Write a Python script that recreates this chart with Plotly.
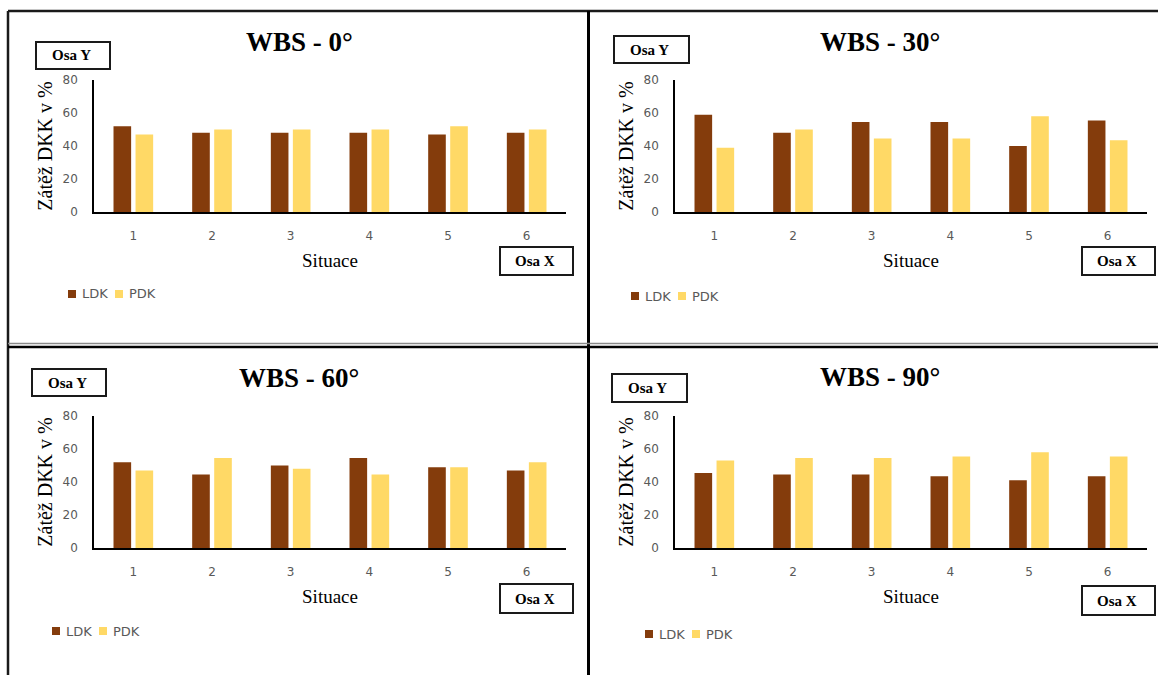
import plotly.graph_objects as go

# --- data -------------------------------------------------------------
situace = ["1", "2", "3", "4", "5", "6"]
panel_titles = ["WBS - 0°", "WBS - 30°", "WBS - 60°", "WBS - 90°"]
series_names = ["LDK", "PDK"]

ldk_0 = [52, 48, 48, 48, 47, 48]
pdk_0 = [47, 50, 50, 50, 52, 50]
ldk_30 = [59, 48, 54.5, 54.5, 40, 55.5]
pdk_30 = [39, 50, 44.5, 44.5, 58, 43.5]
ldk_60 = [52, 44.5, 50, 54.5, 49, 47]
pdk_60 = [47, 54.5, 48, 44.5, 49, 52]
ldk_90 = [45.5, 44.5, 44.5, 43.5, 41, 43.5]
pdk_90 = [53, 54.5, 54.5, 55.5, 58, 55.5]

y_ticks = [0, 20, 40, 60, 80]

# --- styling ----------------------------------------------------------
W, H = 1158, 675
SERIES_COLORS = {"LDK": "#843C0C", "PDK": "#FFD966"}
SERIF = "Liberation Serif"
SANS = "DejaVu Sans"
GREY = "#595959"


def px_x(v):
    return v / W


def px_y(v):
    return 1 - v / H


# pixel geometry for each panel: plot area, heading, axis boxes, legend
panels = [
    dict(vals=(ldk_0, pdk_0), x0=94, x1=566, y0=80, y1=212,
         tx=299, ty=42, oy=(36, 110, 42, 69), ox=(500, 573, 247, 275),
         lx=68, ly=294),
    dict(vals=(ldk_30, pdk_30), x0=675, x1=1147, y0=80, y1=212,
         tx=880, ty=42, oy=(614, 689, 36, 63), ox=(1082, 1155, 247, 275),
         lx=631, ly=296),
    dict(vals=(ldk_60, pdk_60), x0=94, x1=566, y0=416, y1=548,
         tx=299, ty=378, oy=(32, 106, 369, 396), ox=(500, 573, 584, 613),
         lx=52, ly=631),
    dict(vals=(ldk_90, pdk_90), x0=675, x1=1147, y0=416, y1=548,
         tx=880, ty=377, oy=(612, 687, 374, 402), ox=(1082, 1155, 586, 615),
         lx=645, ly=634),
]

fig = go.Figure()
layout = dict(
    template="none",
    width=W, height=H,
    margin=dict(l=0, r=0, t=0, b=0, pad=0, autoexpand=False),
    paper_bgcolor="white", plot_bgcolor="white",
    barmode="group", bargap=0.44, bargroupgap=0.2,
    showlegend=False,
)
annotations = []
shapes = []

for i, p in enumerate(panels):
    n = "" if i == 0 else str(i + 1)
    xa, ya = "x" + n, "y" + n
    for name, vals in zip(series_names, p["vals"]):
        fig.add_trace(go.Bar(
            x=situace, y=vals, name=name,
            marker=dict(color=SERIES_COLORS[name], line=dict(width=0)),
            xaxis=xa, yaxis=ya, offsetgroup=name,
        ))

    layout["xaxis" + n] = dict(
        domain=[px_x(p["x0"]), px_x(p["x1"])], anchor=ya, automargin=False,
        type="category", showline=True, linecolor="black", linewidth=1.5,
        showgrid=False, zeroline=False, ticks="", ticklabelstandoff=12,
        tickfont=dict(family=SANS, size=12, color=GREY),
        title=dict(text="Situace", font=dict(family=SERIF, size=19, color="black"), standoff=12),
        fixedrange=True,
    )
    layout["yaxis" + n] = dict(
        domain=[px_y(p["y1"]), px_y(p["y0"])], anchor=xa, automargin=False,
        range=[0, 80], tickvals=y_ticks, showline=True, linecolor="black", linewidth=1.5,
        showgrid=False, zeroline=False, ticks="", ticklabelstandoff=12,
        tickfont=dict(family=SANS, size=12, color=GREY),
        title=dict(text="Zátěž DKK v %", font=dict(family=SERIF, size=20, color="black"), standoff=5),
        fixedrange=True,
    )

    # panel heading
    annotations.append(dict(
        text="<b>%s</b>" % panel_titles[i], x=px_x(p["tx"]), y=px_y(p["ty"]),
        xref="paper", yref="paper", xanchor="center", yanchor="middle",
        showarrow=False, font=dict(family=SERIF, size=27, color="black"),
    ))
    # "Osa Y" / "Osa X" boxes
    for label, (bx0, bx1, by0, by1) in (("Osa Y", p["oy"]), ("Osa X", p["ox"])):
        shapes.append(dict(
            type="rect", xref="paper", yref="paper",
            x0=px_x(bx0), x1=px_x(bx1), y0=px_y(by1), y1=px_y(by0),
            line=dict(color="#1a1a1a", width=2), fillcolor="white", layer="above",
        ))
        annotations.append(dict(
            text="<b>%s</b>" % label, x=px_x((bx0 + bx1) / 2 - 2), y=px_y((by0 + by1) / 2),
            xref="paper", yref="paper", xanchor="center", yanchor="middle",
            showarrow=False, font=dict(family=SERIF, size=15, color="black"),
        ))
    # compact legend: colour square followed by series name
    lx = p["lx"]
    for name, width in zip(series_names, (47, 0)):
        shapes.append(dict(
            type="rect", xref="paper", yref="paper",
            x0=px_x(lx), x1=px_x(lx + 8), y0=px_y(p["ly"] + 4), y1=px_y(p["ly"] - 4),
            line=dict(width=0), fillcolor=SERIES_COLORS[name],
        ))
        annotations.append(dict(
            text=name, x=px_x(lx + 12), y=px_y(p["ly"]),
            xref="paper", yref="paper", xanchor="left", yanchor="middle",
            showarrow=False, font=dict(family=SANS, size=13, color=GREY),
        ))
        lx += width

# frame around the four panels
frame = [
    (8, 11, W, 11, "#1a1a1a", 2.5),
    (8, 11, 8, H, "#1a1a1a", 2.5),
    (588.5, 11, 588.5, H, "black", 3),
    (8, 343.5, W, 343.5, "#8a8a8a", 1.5),
    (8, 347, W, 347, "black", 2.5),
]
for x0, y0, x1, y1, c, w in frame:
    shapes.append(dict(
        type="line", xref="paper", yref="paper",
        x0=px_x(x0), y0=px_y(y0), x1=px_x(x1), y1=px_y(y1),
        line=dict(color=c, width=w), layer="above",
    ))

layout["annotations"] = annotations
layout["shapes"] = shapes
fig.update_layout(**layout)

fig.write_html("out.html", config={"displayModeBar": False})
